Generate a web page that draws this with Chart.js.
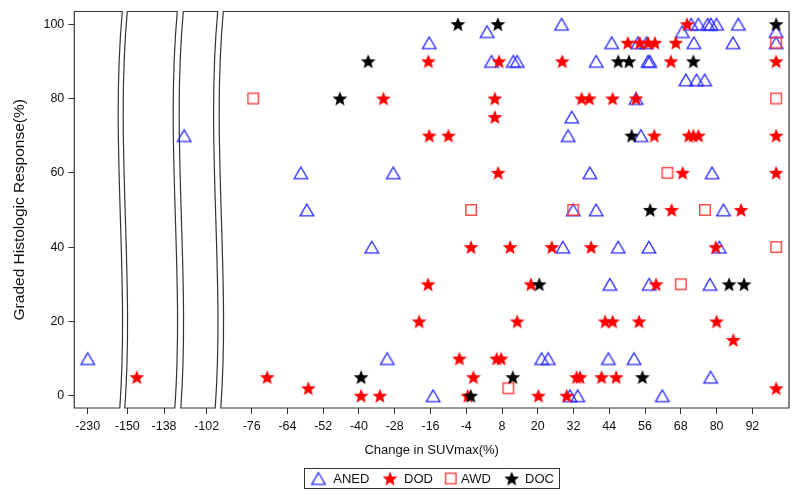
<!DOCTYPE html>
<html>
<head>
<meta charset="utf-8">
<script src="https://cdn.jsdelivr.net/npm/chart.js@4.4.1/dist/chart.umd.min.js"></script>
<style>
html,body{margin:0;padding:0;background:#fff;}
#wrap{width:800px;height:499px;position:relative;}
</style>
</head>
<body>
<div id="wrap"><canvas id="c"></canvas></div>
<script>
// ---------------- data ----------------
const seriesNames = ['ANED', 'DOD', 'AWD', 'DOC'];
const xTickLabels = [-230, -150, -138, -102, -76, -64, -52, -40, -28, -16, -4, 8, 20, 32, 44, 56, 68, 80, 92];
const yTickLabels = [0, 20, 40, 60, 80, 100];

const anedX = [-230, -109.5, -59.5, -57.5, -35.7, -30.5, -28.5, -16.4, -15.1, 3, 4.5, 11.8, 13.1, 21.3, 23.5, 28, 28.4, 30.2, 30.8, 31.4, 31.9, 33.4, 37.5, 39.6, 39.6, 43.7, 44.2, 44.8, 47, 52.3, 53, 53.6, 54.6, 56.5, 57, 57.6, 57.3, 57.4, 61.8, 68.5, 69.7, 71.5, 72.4, 73.3, 73.9, 76, 77, 78.1, 77.8, 78, 78.5, 80, 80.9, 82.3, 85.5, 87.3, 100, 100];
const anedY = [10, 70, 60, 50, 40, 10, 60, 95, 0, 98, 90, 90, 90, 10, 10, 100, 40, 70, 0, 75, 50, 0, 60, 90, 50, 10, 30, 95, 40, 10, 80, 95, 70, 95, 90, 90, 40, 30, 0, 98, 85, 100, 95, 85, 100, 85, 100, 100, 30, 5, 60, 100, 40, 50, 95, 100, 98, 95];

const dodX = [-146.9, -70.8, -57, -39.3, -33, -31.8, -19.8, -16.8, -16.7, -16.4, -10, -6.3, -3.5, -2.4, -1.6, 5.6, 5.6, 6.2, 7, 6.7, 7.7, 10.7, 13.1, 17.7, 20.2, 24.7, 28.2, 29.7, 33, 34.2, 34.7, 37.3, 37.9, 41.4, 42.6, 45.1, 45.1, 46.3, 50.2, 53, 54, 54.2, 57, 59.1, 59.3, 59.7, 64.7, 64.9, 66.3, 68.6, 70.1, 70.7, 72.2, 73.9, 79.7, 80, 85.6, 88.2, 100, 100, 100, 100];
const dodY = [5, 5, 2, 0, 0, 80, 20, 30, 90, 70, 70, 10, 0, 40, 5, 80, 75, 10, 90, 60, 10, 40, 20, 30, 0, 40, 90, 0, 5, 5, 80, 80, 40, 5, 20, 20, 80, 5, 95, 80, 20, 95, 95, 70, 95, 30, 90, 50, 95, 60, 100, 70, 70, 70, 40, 20, 15, 50, 90, 70, 60, 2];

const awdX = [-75.5, -2.4, 10.1, 31.9, 63.5, 68, 76.1, 100, 100, 100];
const awdY = [80, 50, 2, 50, 60, 30, 50, 95, 80, 40];

const docX = [-46.4, -39.3, -36.9, -6.8, 6.6, -2.5, 11.6, 20.5, 47, 50.6, 51.5, 55.1, 57.7, 72.2, 84.2, 89.2, 100];
const docY = [80, 5, 90, 100, 100, 0, 5, 30, 90, 90, 70, 5, 50, 90, 30, 30, 100];

// ---------------- broken axis layout ----------------
// each panel: value range [v0,v1] placed on display units [p0,p1]
const segments = [
  {v0: -234.47, v1: -218.47, p0: 74.3,  p1: 122.3},
  {v0: -150,    v1: -133.66, p0: 127.3, p1: 177.3},
  {v0: -109.8,  v1: -98.33,  p0: 183.3, p1: 217.7},
  {v0: -85.53,  v1: 104.3,   p0: 223.3, p1: 789}
];
function toU(v) {
  let best = segments[0], bd = Infinity;
  for (const s of segments) {
    const d = v < s.v0 ? s.v0 - v : (v > s.v1 ? v - s.v1 : 0);
    if (d < bd) { bd = d; best = s; }
  }
  return best.p0 + (v - best.v0) * (best.p1 - best.p0) / (best.v1 - best.v0);
}

// ---------------- markers ----------------
function makeStar(color) {
  const c = document.createElement('canvas'); c.width = 18; c.height = 18;
  const g = c.getContext('2d'); g.fillStyle = color; g.beginPath();
  const R = 7.8, r = 3.4;
  for (let i = 0; i < 10; i++) {
    const a = -Math.PI / 2 + i * Math.PI / 5, rad = i % 2 ? r : R;
    g.lineTo(9 + rad * Math.cos(a), 9.7 + rad * Math.sin(a));
  }
  g.closePath(); g.fill(); return c;
}
function makeTriangle(color) {
  const c = document.createElement('canvas'); c.width = 18; c.height = 16;
  const g = c.getContext('2d'); g.strokeStyle = color; g.lineWidth = 1.3; g.lineJoin = 'miter';
  g.beginPath(); g.moveTo(9, 2.2); g.lineTo(2.2, 13.8); g.lineTo(15.8, 13.8); g.closePath(); g.stroke();
  return c;
}
function makeSquare(color) {
  const c = document.createElement('canvas'); c.width = 14; c.height = 14;
  const g = c.getContext('2d'); g.strokeStyle = color; g.lineWidth = 1.3;
  g.strokeRect(1.75, 1.75, 10.5, 10.5); return c;
}
const markers = {
  ANED: makeTriangle('rgb(40,40,255)'),
  DOD: makeStar('#ff0000'),
  AWD: makeSquare('#ff3030'),
  DOC: makeStar('#000000')
};

function pts(xs, ys) { return xs.map((v, i) => ({x: toU(v), y: ys[i]})); }

// ---------------- plugins ----------------
const framePlugin = {
  id: 'frames',
  beforeDatasetsDraw(chart) {
    const {ctx, chartArea: {top, bottom}, scales: {x}} = chart;
    const h = bottom - top;
    ctx.save(); ctx.strokeStyle = '#333'; ctx.lineWidth = 1.2; ctx.lineJoin = 'round';
    segments.forEach((s, i) => {
      const L = x.getPixelForValue(s.p0), R = x.getPixelForValue(s.p1);
      ctx.beginPath();
      if (i === 0) { ctx.moveTo(L, bottom); ctx.lineTo(L, top); }
      else { ctx.moveTo(L - 2.5, bottom); ctx.bezierCurveTo(L + 7, top + 2 * h / 3, L - 12, top + h / 3, L, top); }
      ctx.lineTo(R, top);
      if (i === segments.length - 1) ctx.lineTo(R, bottom);
      else ctx.bezierCurveTo(R - 12, top + h / 3, R + 7, top + 2 * h / 3, R - 2.5, bottom);
      ctx.closePath(); ctx.stroke();
    });
    ctx.restore();
  }
};
const legendPlugin = {
  id: 'boxLegend',
  afterDraw(chart) {
    const ctx = chart.ctx;
    ctx.save();
    ctx.strokeStyle = '#333'; ctx.lineWidth = 1;
    ctx.strokeRect(304.5, 468.5, 255, 20);
    const cy = 478.5;
    const place = [[318.5, 333.3], [390, 404], [450.7, 461], [511.7, 525]];
    seriesNames.forEach((name, i) => {
      const img = markers[name];
      ctx.drawImage(img, place[i][0] - img.width / 2, cy - img.height / 2);
      ctx.fillStyle = '#111'; ctx.font = '13px "Liberation Sans", Arial, sans-serif';
      ctx.textBaseline = 'middle'; ctx.textAlign = 'left';
      ctx.fillText(name, place[i][1], cy + 0.5);
    });
    ctx.restore();
  }
};

// ---------------- chart ----------------
Chart.defaults.font.family = '"Liberation Sans", Arial, sans-serif';
Chart.defaults.font.size = 12.5;
Chart.defaults.color = '#111';

const series = [[anedX, anedY], [dodX, dodY], [awdX, awdY], [docX, docY]];
const drawOrder = {ANED: 3, DOD: 1, AWD: 2, DOC: 0};

new Chart(document.getElementById('c'), {
  type: 'scatter',
  data: {
    datasets: seriesNames.map((name, i) => ({
      label: name,
      data: pts(series[i][0], series[i][1]),
      pointStyle: markers[name],
      pointRadius: 8,
      order: drawOrder[name],
      clip: false
    }))
  },
  options: {
    responsive: true, maintainAspectRatio: false, animation: false, events: [],
    layout: {padding: {left: 0, right: 11, top: 10.5, bottom: 41}},
    plugins: {legend: {display: false}, tooltip: {enabled: false}},
    scales: {
      x: {
        type: 'linear', min: 74.3, max: 789,
        afterBuildTicks: s => { s.ticks = xTickLabels.map(v => ({value: toU(v)})); },
        afterFit: s => { s.height = 50; },
        ticks: {autoSkip: false, maxRotation: 0, padding: 5, callback: (v, i) => String(xTickLabels[i])},
        grid: {drawOnChartArea: false, drawTicks: true, tickLength: 6, color: '#333'},
        border: {display: false},
        title: {display: true, text: 'Change in SUVmax(%)', font: {size: 13}, padding: {top: 0, bottom: 0}}
      },
      y: {
        type: 'linear', min: -3.3, max: 103.4,
        afterBuildTicks: s => { s.ticks = yTickLabels.map(v => ({value: v})); },
        afterFit: s => { s.width = 74.3; },
        ticks: {padding: 4, callback: (v, i) => String(yTickLabels[i])},
        grid: {drawOnChartArea: false, drawTicks: true, tickLength: 6, color: '#333'},
        border: {display: false},
        title: {display: true, text: 'Graded Histologic Response(%)', font: {size: 15.5}, padding: {top: 10.7, bottom: 0}}
      }
    }
  },
  plugins: [framePlugin, legendPlugin]
});
</script>
</body>
</html>
